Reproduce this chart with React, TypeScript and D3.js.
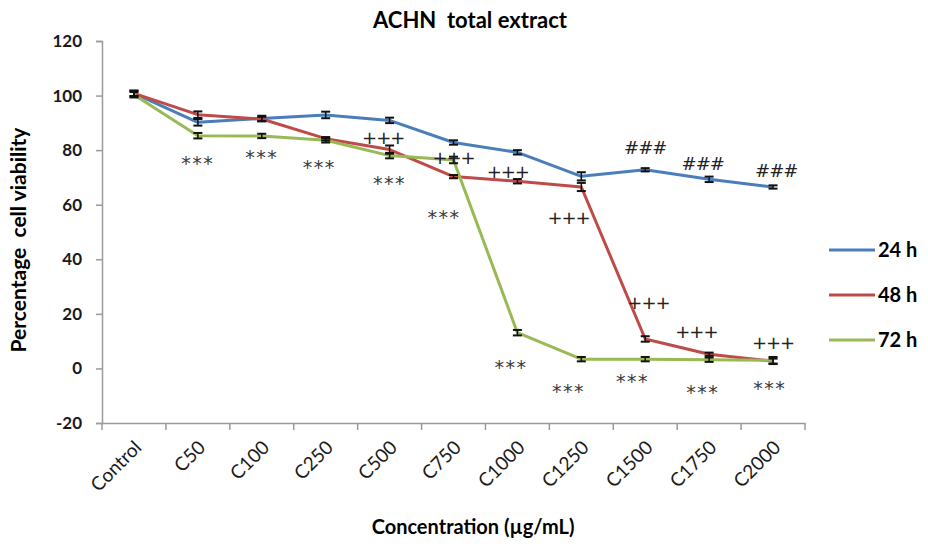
import React, { useEffect, useRef } from "react";
import * as d3 from "d3";

const categories = ["Control", "C50", "C100", "C250", "C500", "C750", "C1000", "C1250", "C1500", "C1750", "C2000"];
const yTicks = [-20, 0, 20, 40, 60, 80, 100, 120];

const h24 = [100.8, 90.2, 91.6, 92.9, 90.9, 82.8, 79.2, 70.4, 72.8, 69.3, 66.5];
const h48 = [100.8, 93.0, 91.4, 84.2, 80.2, 70.3, 68.6, 66.5, 10.8, 5.2, 2.6];
const h72 = [100.3, 85.3, 85.2, 83.6, 78.0, 76.4, 13.1, 3.4, 3.4, 3.2, 3.0];

const err24 = [1, 1.2, 1, 1.2, 1, 0.8, 0.8, 1.5, 0.6, 1, 0.6];
const err48 = [1, 1.2, 0.8, 0.6, 1.5, 0.6, 0.8, 1.5, 1, 0.6, 1];
const err72 = [1, 1, 0.8, 0.8, 1, 1.2, 1, 0.8, 0.8, 0.8, 1.2];

const seriesNames = ["24 h", "48 h", "72 h"];
const colors = ["#4a7ebb", "#be4b48", "#98b954"];

// significance marks: category, y value, label, shift in band units
const marks = [
  ["C50", 77, "***", 0],
  ["C100", 79, "***", 0],
  ["C250", 75.5, "***", -0.1],
  ["C500", 84.6, "+++", -0.1],
  ["C500", 69.6, "***", 0],
  ["C750", 77.3, "+++", 0],
  ["C750", 57, "***", -0.15],
  ["C1000", 72, "+++", -0.15],
  ["C1000", 2.3, "***", -0.1],
  ["C1250", 55.4, "+++", -0.2],
  ["C1250", -6.6, "***", -0.2],
  ["C1500", 80.8, "###", 0],
  ["C1500", 24, "+++", 0.05],
  ["C1500", -3, "***", -0.2],
  ["C1750", 75.2, "###", -0.1],
  ["C1750", 13.5, "+++", -0.2],
  ["C1750", -7.1, "***", -0.1],
  ["C2000", 72.3, "###", 0.05],
  ["C2000", 9.3, "+++", 0],
  ["C2000", -5.6, "***", -0.05],
];

const App = () => {
  const chartRef = useRef(null);

  useEffect(() => {
    drawChart();
  }, []);

  const drawChart = () => {
    const svg = d3.select(chartRef.current);
    svg.selectAll("*").remove();

    const font = "Lato, 'Open Sans', sans-serif";
    const margin = { top: 41, left: 102, right: 123, bottom: 124 };
    const width = 928;
    const height = 547;

    const x = d3
      .scaleBand()
      .domain(categories)
      .range([margin.left, width - margin.right]);
    const y = d3
      .scaleLinear()
      .domain([-20, 120])
      .range([height - margin.bottom, margin.top]);
    const cx = (c) => x(c) + x.bandwidth() / 2;

    // title
    svg
      .append("text")
      .attr("x", 470)
      .attr("y", 28)
      .attr("text-anchor", "middle")
      .style("font-family", font)
      .style("font-weight", "bold")
      .style("font-size", "22px")
      .style("white-space", "pre")
      .text("ACHN  total extract");

    // y axis
    const yAxis = svg
      .append("g")
      .attr("transform", `translate(${margin.left},0)`)
      .call(
        d3
          .axisLeft(y)
          .tickValues(yTicks)
          .tickSize(6)
          .tickPadding(14)
          .tickFormat((d) => String(d))
      );
    yAxis.select(".domain").attr("stroke", "#9a9a9a").attr("stroke-width", 1.5);
    yAxis.selectAll(".tick line").attr("stroke", "#9a9a9a").attr("stroke-width", 1.5);
    yAxis
      .selectAll("text")
      .style("font-family", font)
      .style("font-weight", "bold")
      .style("font-size", "17px")
      .attr("fill", "#1a1a1a");

    // x axis at the bottom (y = -20)
    const xAxis = svg
      .append("g")
      .attr("transform", `translate(0,${y(-20)})`)
      .call(d3.axisBottom(x).tickSize(0).tickPadding(0));
    xAxis.select(".domain").attr("stroke", "#9a9a9a").attr("stroke-width", 1.5);
    xAxis.selectAll(".tick line").remove();
    xAxis
      .selectAll(".tick text")
      .attr("y", 0)
      .attr("transform", "translate(4,21) rotate(-45)")
      .attr("dy", "0.35em")
      .style("text-anchor", "end")
      .style("font-family", font)
      .style("font-size", "19px")
      .attr("fill", "#1a1a1a");
    // band boundary ticks
    const bounds = categories.map((c) => x(c)).concat([x(categories[categories.length - 1]) + x.bandwidth()]);
    xAxis
      .selectAll(".btick")
      .data(bounds)
      .enter()
      .append("line")
      .attr("x1", (d) => d)
      .attr("x2", (d) => d)
      .attr("y1", 0)
      .attr("y2", 7)
      .attr("stroke", "#9a9a9a")
      .attr("stroke-width", 1.5);

    // axis titles
    svg
      .append("text")
      .attr("transform", `translate(26,${(y(120) + y(-20)) / 2 + 8}) rotate(-90)`)
      .attr("text-anchor", "middle")
      .style("font-family", font)
      .style("font-weight", "bold")
      .style("font-size", "21px")
      .style("white-space", "pre")
      .text("Percentage  cell viability");
    svg
      .append("text")
      .attr("x", 473)
      .attr("y", 534)
      .attr("text-anchor", "middle")
      .style("font-family", font)
      .style("font-weight", "bold")
      .style("font-size", "20px")
      .text("Concentration (µg/mL)");

    const all = [h24, h48, h72];
    const errs = [err24, err48, err72];

    const line = d3
      .line()
      .x((d, i) => cx(categories[i]))
      .y((d) => y(d));

    all.forEach((vals, si) => {
      svg
        .append("path")
        .datum(vals)
        .attr("fill", "none")
        .attr("stroke", colors[si])
        .attr("stroke-width", 3)
        .attr("stroke-linejoin", "round")
        .attr("d", line);
    });

    // error bars
    all.forEach((vals, si) => {
      const g = svg.append("g");
      vals.forEach((v, i) => {
        const px = cx(categories[i]);
        const e = errs[si][i];
        g.append("line")
          .attr("x1", px)
          .attr("x2", px)
          .attr("y1", y(v + e))
          .attr("y2", y(v - e))
          .attr("stroke", "#111")
          .attr("stroke-width", 1.5);
        [v + e, v - e].forEach((yy) => {
          g.append("line")
            .attr("x1", px - 4.5)
            .attr("x2", px + 4.5)
            .attr("y1", y(yy))
            .attr("y2", y(yy))
            .attr("stroke", "#111")
            .attr("stroke-width", 2);
        });
      });
    });

    // significance marks
    svg
      .selectAll(".mark")
      .data(marks)
      .enter()
      .append("text")
      .attr("x", (d) => cx(d[0]) + d[3] * x.bandwidth())
      .attr("y", (d) => y(d[1]))
      .attr("dy", (d) => (d[2] === "***" ? "0.6em" : "0.35em"))
      .attr("text-anchor", "middle")
      .style("font-family", "'DejaVu Sans', sans-serif")
      .style("font-size", (d) => (d[2] === "***" ? "19px" : "18px"))
      .attr("fill", (d) => (d[2] === "***" ? "#3a3a3a" : "#222"))
      .style("letter-spacing", (d) => (d[2] === "***" ? "1.5px" : "-1px"))
      .text((d) => d[2]);

    // legend
    const legend = svg.append("g");
    seriesNames.forEach((name, i) => {
      const ly = 250 + i * 45;
      legend
        .append("line")
        .attr("x1", 829)
        .attr("x2", 875)
        .attr("y1", ly)
        .attr("y2", ly)
        .attr("stroke", colors[i])
        .attr("stroke-width", 3);
      legend
        .append("text")
        .attr("x", 878)
        .attr("y", ly)
        .attr("dy", "0.35em")
        .style("font-family", font)
        .style("font-weight", "bold")
        .style("font-size", "20px")
        .text(name);
    });
  };

  return (
    <div>
      <svg
        ref={chartRef}
        width={928}
        height={547}
        style={{ position: "absolute", left: 0, top: 0, background: "#fff" }}
      ></svg>
    </div>
  );
};

export default App;
